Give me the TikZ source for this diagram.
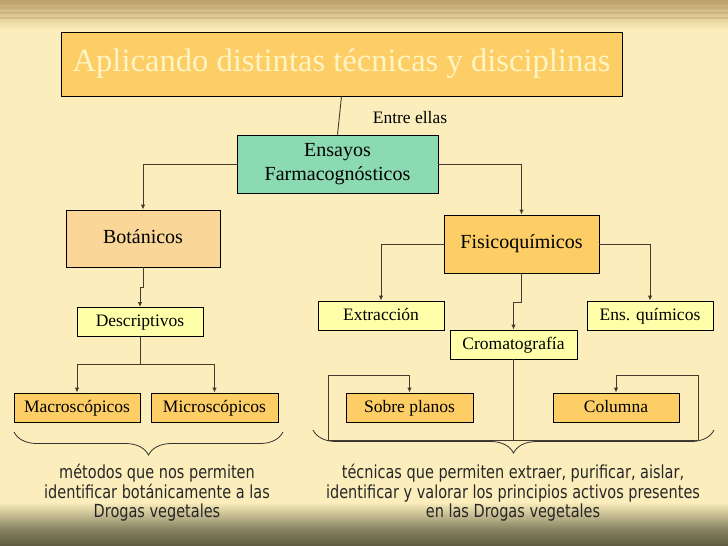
\documentclass[tikz,border=0pt]{standalone}
\usepackage{fontspec}
\setmainfont{Liberation Serif}
\newfontfamily\notefont[FakeStretch=0.805]{DejaVu Sans}
\usepackage{tikz}
\usetikzlibrary{arrows.meta,decorations.pathreplacing}

\definecolor{fondo}{RGB}{252,238,188}
\definecolor{franja}{RGB}{190,162,108}
\definecolor{oliva}{RGB}{92,92,64}
\definecolor{naranja}{RGB}{253,206,102}
\definecolor{verde}{RGB}{140,218,178}
\definecolor{tostado}{RGB}{250,214,152}
\definecolor{amarillo}{RGB}{255,255,170}
\definecolor{linea}{RGB}{70,60,45}
\definecolor{crema}{RGB}{255,244,196}

\begin{document}
\begin{tikzpicture}[x=1pt, y=-1pt,
  caja/.style={draw=black, line width=0.9pt, inner sep=0pt, align=center},
  grande/.style={caja, font=\fontsize{20}{24}\selectfont},
  una/.style={text height=13.5pt, text depth=4.5pt},
  chica/.style={caja, una, minimum height=29pt, font=\fontsize{17.5}{20}\selectfont},
  con/.style={draw=linea, line width=0.9pt},
  flecha/.style={con, -{Latex[length=5pt,width=4.5pt]}},
  llave/.style={draw=black!80, line width=0.8pt, decorate, decoration={brace, amplitude=23pt}},
  nota/.style={font=\notefont\fontsize{18}{19.5}\selectfont, align=center, text=black!85}]

\useasboundingbox (0,0) rectangle (728,546);
% fondo
\fill[fondo] (0,0) rectangle (728,546);
\shade[top color=franja, bottom color=fondo] (0,0) rectangle (728,30);
\foreach \y in {3,8,13,18} \draw[franja, line width=1.5pt, opacity=0.4] (0,\y) -- (728,\y);
\shade[top color=fondo, bottom color=oliva!75!fondo] (0,502) rectangle (728,530);
\shade[top color=oliva!75!fondo, bottom color=oliva] (0,530) rectangle (728,546);

\node[caja, fill=naranja, minimum width=561pt, minimum height=64pt, text=crema, font=\fontsize{32.6}{36}\selectfont] (titulo) at (341.5,64) {Aplicando distintas técnicas y disciplinas};
\node[font=\fontsize{17.5}{20}\selectfont] (entre) at (410,118) {Entre ellas};
\node[grande, fill=verde, minimum width=201pt, minimum height=58pt] (ensayos) at (337.5,164) {Ensayos\\Farmacognósticos};

\node[grande, una, fill=tostado, minimum width=154pt, minimum height=57pt] (botanicos) at (143,238.5) {Botánicos};
\node[grande, una, fill=naranja, minimum width=155pt, minimum height=58pt] (fisico) at (521.5,244) {Fisicoquímicos};

\node[chica, fill=amarillo, minimum width=126pt] (descrip) at (140,322) {Descriptivos};
\node[chica, fill=amarillo, minimum width=126pt] (extrac) at (381,315.5) {Extracción};
\node[chica, fill=amarillo, minimum width=126pt] (ensq) at (650,315.5) {Ens. químicos};
\node[chica, fill=amarillo, minimum width=127pt] (croma) at (513.5,344.5) {Cromatografía};

\node[chica, fill=naranja, minimum width=126pt] (macro) at (77,407.5) {Macroscópicos};
\node[chica, fill=naranja, minimum width=127pt] (micro) at (214.5,407.5) {Microscópicos};
\node[chica, fill=naranja, minimum width=127pt] (planos) at (409.5,407.5) {Sobre planos};
\node[chica, fill=naranja, minimum width=126pt] (columna) at (616,407.5) {Columna};

% conectores
\draw[con] (titulo.south) -- (ensayos.north);
\draw[flecha] (ensayos.west) -| (botanicos.north);
\draw[flecha] (ensayos.east) -| (fisico.north);
\draw[flecha] (botanicos.south) -- ++(0,20) -| (descrip.north);

\coordinate (dsplit) at (140,364);
\draw[con] (descrip.south) -- (dsplit);
\draw[flecha] (dsplit) -| (macro.north);
\draw[flecha] (dsplit) -| (micro.north);

\draw[flecha] (fisico.west) -| (extrac.north);
\draw[flecha] (fisico.east) -| (ensq.north);
\draw[flecha] (fisico.south) -- ++(0,29) -| (croma.north);

\coordinate (cbase) at (513.5,440);
\coordinate (cizq) at (328,440);
\coordinate (cder) at (698,440);
\coordinate (cizqa) at (328,375);
\coordinate (cdera) at (698,375);
\draw[con] (croma.south) -- (cbase);
\draw[con] (cizq) -- (cder);
\draw[flecha] (cizq) -- (cizqa) -| (planos.north);
\draw[flecha] (cder) -- (cdera) -| (columna.north);

% llaves y notas
\draw[llave] (283,432) -- (14,432);
\draw[llave] (714,430) -- (313,430);
\node[nota] (nota1) at (157,493) {métodos que nos permiten\\identificar botánicamente a las\\Drogas vegetales};
\node[nota] (nota2) at (513,493) {técnicas que permiten extraer, purificar, aislar,\\identificar y valorar los principios activos presentes\\en las Drogas vegetales};
\end{tikzpicture}
\end{document}
